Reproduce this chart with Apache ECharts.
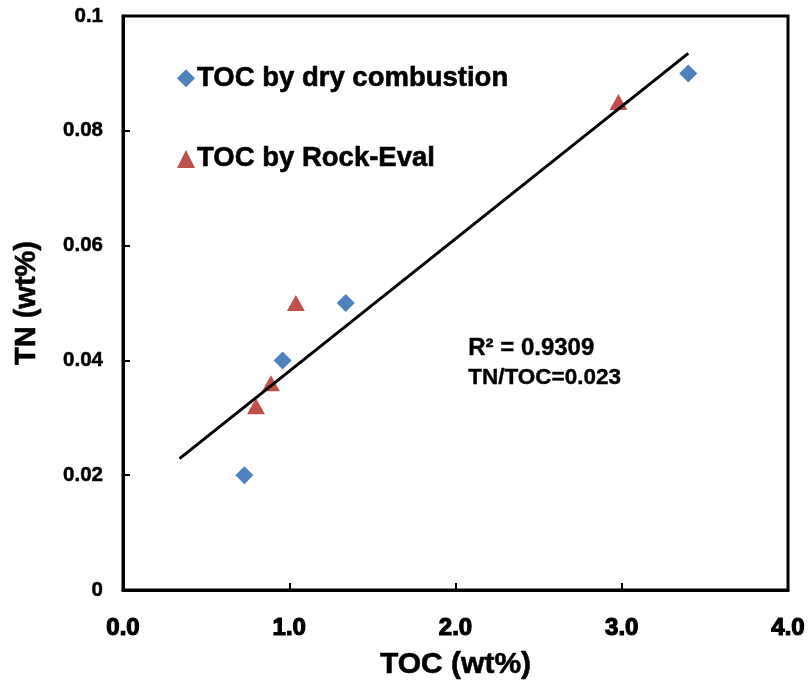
<!DOCTYPE html>
<html>
<head>
<meta charset="utf-8">
<script src="https://cdn.jsdelivr.net/npm/echarts@6/dist/echarts.min.js"></script>
<style>
    html, body { margin: 0; padding: 0; background: #fff; }
    #chart { width: 809px; height: 688px; }
</style>
</head>
<body>
<div id="chart"></div>
<script>
// TOC (wt%) / TN (wt%) 数据
let dryTOC = [0.73, 0.96, 1.34, 3.40];
let dryTN = [0.020, 0.040, 0.050, 0.090];
let rockTOC = [0.80, 0.89, 1.04, 2.98];
let rockTN = [0.032, 0.036, 0.050, 0.085];
// 趋势线两端
let trendTOC = [0.34, 3.40];
let trendTN = [0.0229, 0.0935];
let xTicks = ['0.0', '1.0', '2.0', '3.0', '4.0'];
let yTicks = ['0', '0.02', '0.04', '0.06', '0.08', '0.1'];

let seriesNames = ['TOC by dry combustion', 'TOC by Rock-Eval'];
let font = 'Liberation Sans, Arial, sans-serif';

function zip(a, b) {
    return a.map((v, i) => [v, b[i]]);
}

let chart = echarts.init(document.getElementById('chart'));
chart.setOption({
    backgroundColor: '#fff',
    animation: false,
    grid: {
        left: 123, right: 21, top: 16, bottom: 98,
        outerBoundsMode: 'none',
        containLabel: false,
        show: true,
        borderColor: '#000',
        borderWidth: 3
    },
    legend: {
        orient: 'vertical',
        left: 172,
        top: 59,
        itemGap: 52,
        itemWidth: 18,
        itemHeight: 18,
        data: [
            { name: seriesNames[0], icon: 'diamond' },
            { name: seriesNames[1], icon: 'triangle' }
        ],
        textStyle: {
            fontFamily: font, fontSize: 27.5, fontWeight: 'bold', color: '#000',
            textBorderColor: '#000', textBorderWidth: 0.6,
            padding: [0, 0, 0, -3]
        }
    },
    xAxis: {
        type: 'value',
        min: 0, max: 4, interval: 1,
        name: 'TOC (wt%)',
        nameLocation: 'middle',
        nameGap: 60,
        nameTextStyle: {
            fontFamily: font, fontSize: 30, fontWeight: 'bold', color: '#000',
            textBorderColor: '#000', textBorderWidth: 0.6
        },
        splitLine: { show: false },
        axisLine: { lineStyle: { color: '#000', width: 3 } },
        axisTick: { inside: true, length: 7, lineStyle: { color: '#000', width: 2 } },
        axisLabel: {
            margin: 26,
            fontFamily: font, fontSize: 24, fontWeight: 'bold', color: '#000',
            textBorderColor: '#000', textBorderWidth: 1.2,
            formatter: v => xTicks[Math.round(v)]
        }
    },
    yAxis: {
        type: 'value',
        min: 0, max: 0.1, interval: 0.02,
        name: 'TN (wt%)',
        nameLocation: 'middle',
        nameGap: 82,
        nameTextStyle: {
            fontFamily: font, fontSize: 29, fontWeight: 'bold', color: '#000',
            textBorderColor: '#000', textBorderWidth: 0.6
        },
        splitLine: { show: false },
        axisLine: { lineStyle: { color: '#000', width: 3 } },
        axisTick: { inside: true, length: 7, lineStyle: { color: '#000', width: 2 } },
        axisLabel: {
            margin: 20,
            fontFamily: font, fontSize: 20.5, fontWeight: 'bold', color: '#000',
            textBorderColor: '#000', textBorderWidth: 0.5,
            formatter: v => yTicks[Math.round(v / 0.02)]
        }
    },
    graphic: [
        {
            type: 'text', left: 468, top: 336,
            style: { text: 'R² = 0.9309', font: 'bold 24px ' + font, fill: '#000', stroke: '#000', lineWidth: 0.4 }
        },
        {
            type: 'text', left: 468, top: 366,
            style: { text: 'TN/TOC=0.023', font: 'bold 22.5px ' + font, fill: '#000', stroke: '#000', lineWidth: 0.4 }
        }
    ],
    series: [
        {
            name: 'trend',
            type: 'line',
            data: zip(trendTOC, trendTN),
            showSymbol: false,
            symbol: 'none',
            lineStyle: { color: '#000', width: 3 },
            z: 3
        },
        {
            name: seriesNames[0],
            type: 'scatter',
            symbol: 'diamond',
            symbolSize: [18, 18],
            itemStyle: { color: '#4F81BD', opacity: 1 },
            data: zip(dryTOC, dryTN),
            z: 2
        },
        {
            name: seriesNames[1],
            type: 'scatter',
            symbol: 'triangle',
            symbolSize: [18, 16],
            itemStyle: { color: '#C0504D', opacity: 1 },
            data: zip(rockTOC, rockTN),
            z: 2
        }
    ]
});
</script>
</body>
</html>
